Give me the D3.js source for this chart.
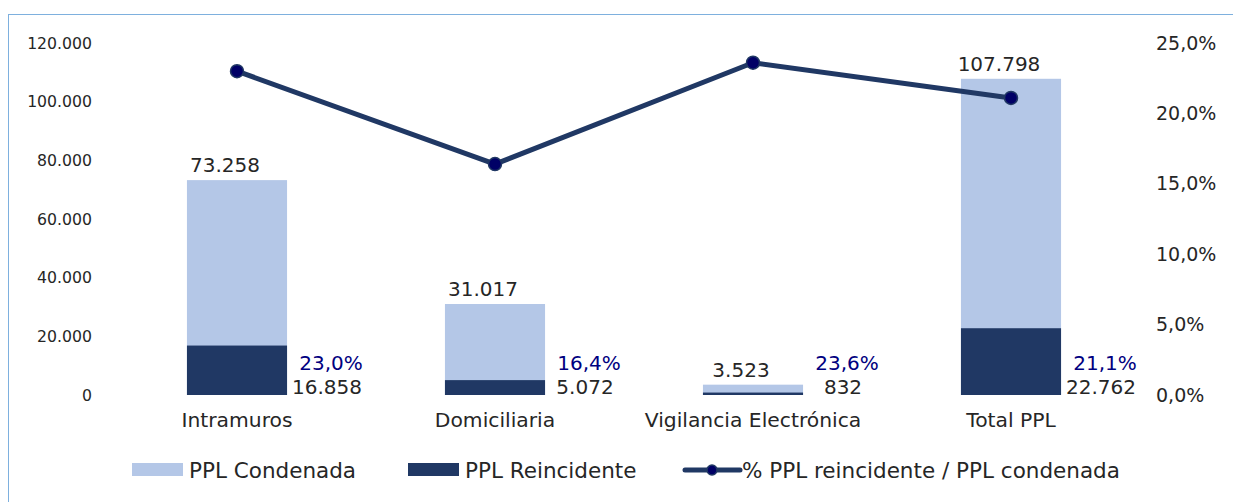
<!DOCTYPE html>
<html>
<head>
<meta charset="utf-8">
<script src="https://cdn.jsdelivr.net/npm/d3@7"></script>
<style>
    body { margin: 0; background: #fff; }
    svg { display: block; font-family: "DejaVu Sans", Verdana, sans-serif; }
</style>
</head>
<body>
<svg id="chart" width="1233" height="502"></svg>
<script>
const categories = ['Intramuros', 'Domiciliaria', 'Vigilancia Electrónica', 'Total PPL'];
const condenada = [73258, 31017, 3523, 107798];
const reincidente = [16858, 5072, 832, 22762];
const pctReincidente = [23.0, 16.4, 23.6, 21.1];
const leftTicks = [0, 20000, 40000, 60000, 80000, 100000, 120000];
const rightTicks = [0, 5, 10, 15, 20, 25];
const seriesNames = ['PPL Condenada', 'PPL Reincidente', '% PPL reincidente / PPL condenada'];

const colors = {
    light: '#b4c7e7',
    dark: '#203864',
    line: '#203864',
    marker: '#000066',
    pct: '#000080',
    text: '#262626'
};

const margin = { top: 43, left: 108, right: 93, bottom: 107 };
const width = 1233;
const height = 502;
const chartWidth = width - margin.left - margin.right;
const chartHeight = height - margin.top - margin.bottom;

const fmtNum = d3.formatLocale({ decimal: ',', thousands: '.', grouping: [3], currency: ['', ''] }).format(',.0f');
const fmtPct = v => v.toFixed(1).replace('.', ',') + '%';

const svg = d3.select('#chart');

// frame
svg.append('rect')
    .attr('x', 8.5)
    .attr('y', 14.5)
    .attr('width', width)
    .attr('height', height)
    .attr('fill', 'none')
    .attr('stroke', '#7eb0de')
    .attr('stroke-width', 1);

const g = svg.append('g')
    .attr('transform', `translate(${margin.left},${margin.top})`);

const x = d3.scaleBand()
    .domain(categories)
    .range([0, chartWidth])
    .paddingInner(0.612)
    .paddingOuter(0.306);

const y = d3.scaleLinear()
    .domain([0, 120000])
    .range([chartHeight, 0]);

const y2 = d3.scaleLinear()
    .domain([0, 25])
    .range([chartHeight, 0]);

const bw = x.bandwidth();
const cx = c => x(c) + bw / 2;

// axes
const yAxe = d3.axisLeft(y).tickValues(leftTicks).tickFormat(fmtNum).tickSize(0).tickPadding(16);
const y2Axe = d3.axisRight(y2).tickValues(rightTicks).tickFormat(fmtPct).tickSize(0).tickPadding(16);
const xAxe = d3.axisBottom(x).tickSize(0).tickPadding(18);

function styleAxis(sel, size) {
    sel.attr('font-family', null).attr('font-size', null);
    sel.select('.domain').remove();
    sel.selectAll('text')
        .attr('font-size', size)
        .attr('fill', colors.text);
}

g.append('g')
    .call(yAxe)
    .call(styleAxis, 15.7);

g.append('g')
    .attr('transform', `translate(${chartWidth},0)`)
    .call(y2Axe)
    .call(styleAxis, 19);

g.append('g')
    .attr('transform', `translate(0,${chartHeight})`)
    .call(xAxe)
    .call(styleAxis, 20.3);

// bars
g.selectAll('rect.cond')
    .data(categories)
    .enter()
    .append('rect')
    .attr('class', 'cond')
    .attr('x', c => x(c))
    .attr('width', bw)
    .attr('y', (c, i) => y(condenada[i]))
    .attr('height', (c, i) => chartHeight - y(condenada[i]))
    .attr('fill', colors.light);

g.selectAll('rect.rein')
    .data(categories)
    .enter()
    .append('rect')
    .attr('class', 'rein')
    .attr('x', c => x(c))
    .attr('width', bw)
    .attr('y', (c, i) => y(reincidente[i]))
    .attr('height', (c, i) => chartHeight - y(reincidente[i]))
    .attr('fill', colors.dark);

// labels
g.selectAll('text.cond')
    .data(categories)
    .enter()
    .append('text')
    .attr('class', 'cond')
    .attr('x', c => cx(c) - 12)
    .attr('y', (c, i) => y(condenada[i]) - 8)
    .attr('text-anchor', 'middle')
    .attr('font-size', 20)
    .attr('fill', colors.text)
    .text((c, i) => fmtNum(condenada[i]));

g.selectAll('text.rein')
    .data(categories)
    .enter()
    .append('text')
    .attr('class', 'rein')
    .attr('x', c => cx(c) + 90)
    .attr('y', chartHeight - 1)
    .attr('text-anchor', 'middle')
    .attr('font-size', 20)
    .attr('fill', colors.text)
    .text((c, i) => fmtNum(reincidente[i]));

g.selectAll('text.pct')
    .data(categories)
    .enter()
    .append('text')
    .attr('class', 'pct')
    .attr('x', c => cx(c) + 94)
    .attr('y', chartHeight - 25)
    .attr('text-anchor', 'middle')
    .attr('font-size', 20)
    .attr('fill', colors.pct)
    .text((c, i) => fmtPct(pctReincidente[i]));

// line
const line = d3.line()
    .x(c => cx(c))
    .y((c, i) => y2(pctReincidente[i]));

g.append('path')
    .datum(categories)
    .attr('d', line)
    .attr('fill', 'none')
    .attr('stroke', colors.line)
    .attr('stroke-width', 5)
    .attr('stroke-linejoin', 'round');

g.selectAll('circle.pt')
    .data(categories)
    .enter()
    .append('circle')
    .attr('class', 'pt')
    .attr('cx', c => cx(c))
    .attr('cy', (c, i) => y2(pctReincidente[i]))
    .attr('r', 6.5)
    .attr('fill', colors.marker)
    .attr('stroke', colors.line)
    .attr('stroke-width', 1.5);

// legend
const legend = svg.append('g')
    .attr('transform', 'translate(132,470)');

const legendFont = 21.5;

const l1 = legend.append('g');
l1.append('rect').attr('x', 0).attr('y', -7).attr('width', 51).attr('height', 13).attr('fill', colors.light);
l1.append('text').attr('x', 57).attr('y', 8).attr('font-size', legendFont).attr('fill', colors.text).text(seriesNames[0]);

const l2 = legend.append('g').attr('transform', 'translate(276,0)');
l2.append('rect').attr('x', 0).attr('y', -7).attr('width', 51).attr('height', 13).attr('fill', colors.dark);
l2.append('text').attr('x', 57).attr('y', 8).attr('font-size', legendFont).attr('fill', colors.text).text(seriesNames[1]);

const l3 = legend.append('g').attr('transform', 'translate(553,0)');
l3.append('line').attr('x1', 0).attr('x2', 55).attr('y1', 0).attr('y2', 0)
    .attr('stroke', colors.line).attr('stroke-width', 5).attr('stroke-linecap', 'round');
l3.append('circle').attr('cx', 27).attr('cy', 0).attr('r', 5)
    .attr('fill', colors.marker).attr('stroke', colors.line).attr('stroke-width', 1.5);
l3.append('text').attr('x', 57).attr('y', 8).attr('font-size', legendFont).attr('fill', colors.text).text(seriesNames[2]);
</script>
</body>
</html>
